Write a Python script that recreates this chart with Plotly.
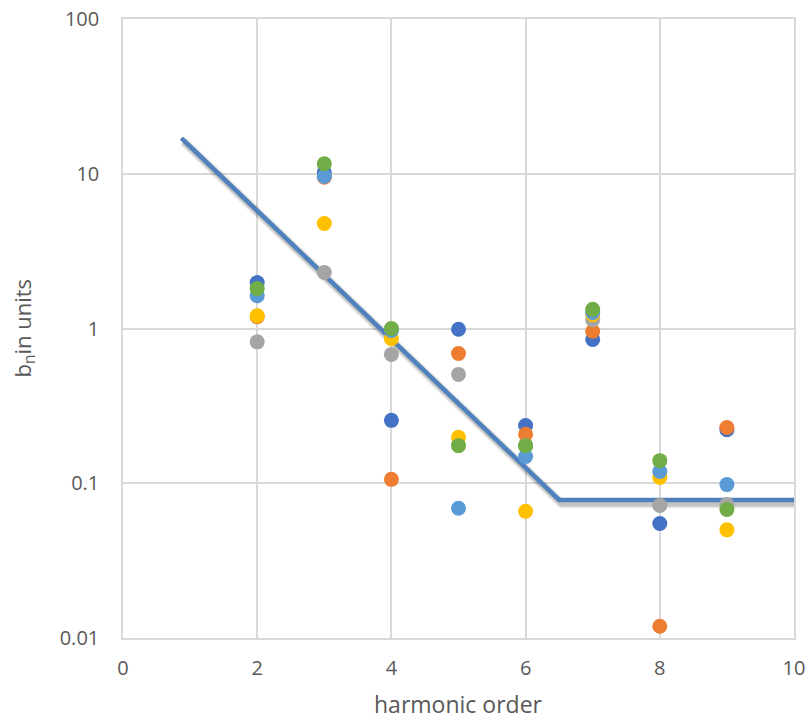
import plotly.graph_objects as go

# harmonic orders
orders = [2, 3, 4, 5, 6, 7, 8, 9]

# measured b_n for six magnets (units)
mag1 = [1.98, 10.2, 0.255, 0.99, 0.236, 0.85, 0.055, 0.222]
mag2 = [1.19, 9.5, 0.106, 0.69, 0.207, 0.96, 0.0119, 0.229]
mag3 = [0.82, 2.30, 0.68, 0.505, 0.175, 1.14, 0.0718, 0.073]
mag4 = [1.21, 4.77, 0.86, 0.198, 0.066, 1.23, 0.109, 0.050]
mag5 = [1.63, 9.6, 0.97, 0.069, 0.149, 1.27, 0.119, 0.098]
mag6 = [1.81, 11.6, 1.00, 0.175, 0.175, 1.33, 0.140, 0.0676]

series_colors = ["#4472C4", "#ED7D31", "#A5A5A5", "#FFC000", "#5B9BD5", "#70AD47"]

# tolerance limit line
limit_x = [0.87, 6.5, 10.0]
limit_y = [17.0, 0.078, 0.078]

fig = go.Figure()

# soft drop shadow under the limit line
shadow_dx = 0.035
shadow_fy = 0.95
for w, a in [(10, 0.05), (8, 0.08), (6, 0.12)]:
    fig.add_trace(go.Scatter(
        x=[v + shadow_dx for v in limit_x],
        y=[v * shadow_fy for v in limit_y],
        mode="lines",
        line=dict(color=f"rgba(0,0,0,{a})", width=w),
        hoverinfo="skip", showlegend=False,
    ))

fig.add_trace(go.Scatter(
    x=limit_x, y=limit_y, mode="lines",
    line=dict(color="#4F81BD", width=4.5),
    showlegend=False,
))

for vals, col in zip([mag1, mag2, mag3, mag4, mag5, mag6], series_colors):
    fig.add_trace(go.Scatter(
        x=orders, y=vals, mode="markers",
        marker=dict(color=col, size=15, line=dict(width=0)),
        showlegend=False,
    ))

font_family = "Open Sans, Liberation Sans, sans-serif"
grid = "#D9D9D9"
text_col = "#595959"

fig.update_layout(
    width=811, height=720,
    margin=dict(l=123, r=17, t=19, b=82, autoexpand=False),
    paper_bgcolor="white", plot_bgcolor="white",
    font=dict(family=font_family, color=text_col, size=20),
    showlegend=False,
)
fig.update_xaxes(
    range=[0, 10], tickvals=[0, 2, 4, 6, 8, 10], ticktext=["0", "2", "4", "6", "8", "10"],
    showgrid=True, gridcolor=grid, gridwidth=1.5,
    showline=True, linecolor=grid, linewidth=1.5, mirror=True,
    zeroline=False, ticks="outside", ticklen=11, tickcolor="rgba(0,0,0,0)",
    tickfont=dict(size=20, color=text_col), automargin=False,
)
fig.update_yaxes(
    type="log", range=[-2, 2],
    tickvals=[0.01, 0.1, 1, 10, 100], ticktext=["0.01", "0.1", "1", "10", "100"],
    showgrid=True, gridcolor=grid, gridwidth=1.5,
    showline=True, linecolor=grid, linewidth=1.5, mirror=True,
    zeroline=False, ticks="outside", ticklen=18, tickcolor="rgba(0,0,0,0)",
    tickfont=dict(size=20, color=text_col), automargin=False,
)

# axis titles
fig.add_annotation(
    text="harmonic order", xref="paper", yref="paper", x=0.5, y=0,
    xanchor="center", yanchor="top", yshift=-48, showarrow=False,
    font=dict(size=23, color=text_col),
)
fig.add_annotation(
    text="b<sub>n</sub>in units", xref="paper", yref="paper", x=0, y=0.5,
    xanchor="center", yanchor="middle", xshift=-100, textangle=-90, showarrow=False,
    font=dict(size=22, color=text_col),
)

fig.write_html("out.html")
